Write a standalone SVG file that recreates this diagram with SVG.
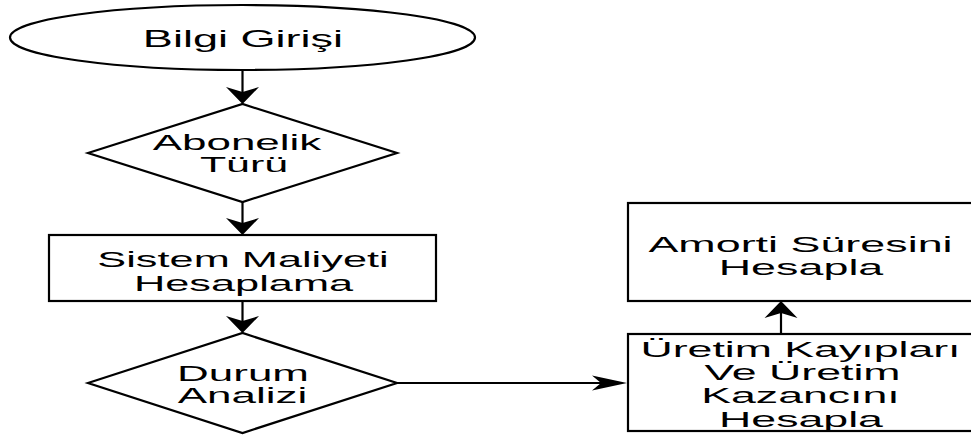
<svg xmlns="http://www.w3.org/2000/svg" width="971" height="439" viewBox="0 0 971 439">
<style>
.shape{fill:#ffffff;stroke:#000000;stroke-width:2.2}
.edge{fill:none;stroke:#000000;stroke-width:2.2}
.lbl{font-family:"Liberation Sans",Arial,sans-serif;font-size:22px;fill:#000000;text-anchor:middle}
</style>
<defs>
<marker id="arrV" markerUnits="userSpaceOnUse" viewBox="0 -17 18 34" markerWidth="18" markerHeight="34" refX="5" refY="0" orient="auto">
<path d="M0,-16.5 L17,0 L0,16.5 L5,0 Z" fill="#000000"/>
</marker>
<marker id="arrH" markerUnits="userSpaceOnUse" viewBox="0 -8 36 16" markerWidth="36" markerHeight="16" refX="9" refY="0" orient="auto">
<path d="M0,-7.5 L35,0 L0,7.5 L9,0 Z" fill="#000000"/>
</marker>
</defs>
<rect width="971" height="439" fill="#ffffff"/>
<g id="connectors">
<path class="edge" d="M242.5,70 L242.5,92" marker-end="url(#arrV)"/>
<path class="edge" d="M242.5,202 L242.5,223" marker-end="url(#arrV)"/>
<path class="edge" d="M242.5,301 L242.5,321" marker-end="url(#arrV)"/>
<path class="edge" d="M397,383 L601,383" marker-end="url(#arrH)"/>
<path class="edge" d="M781,334 L781,313" marker-end="url(#arrV)"/>
</g>
<g id="bilgi-girisi">
<ellipse class="shape" cx="242.5" cy="37.5" rx="232.5" ry="32.5"/>
<text class="lbl" transform="translate(243,47) scale(1.96,1)" style="font-size:23px">Bilgi Girişi</text>
</g>
<g id="abonelik-turu">
<polygon class="shape" points="88,153 242.5,104 397,153 242.5,202"/>
<text class="lbl" transform="translate(237,150) scale(2,1)">Abonelik</text>
<text class="lbl" transform="translate(244,172) scale(1.95,1)">Türü</text>
</g>
<g id="sistem-maliyeti">
<rect class="shape" x="49" y="235" width="387" height="66"/>
<text class="lbl" transform="translate(243,267) scale(1.97,1)">Sistem Maliyeti</text>
<text class="lbl" transform="translate(243.5,291) scale(1.97,1)">Hesaplama</text>
</g>
<g id="durum-analizi">
<polygon class="shape" points="88,383 242.5,333 397,383 242.5,433"/>
<text class="lbl" transform="translate(243,381) scale(2,1)">Durum</text>
<text class="lbl" transform="translate(242.5,403) scale(2,1)">Analizi</text>
</g>
<g id="amorti-suresi">
<rect class="shape" x="628" y="203" width="360" height="98"/>
<text class="lbl" transform="translate(800.5,252) scale(2.04,1)">Amorti Süresini</text>
<text class="lbl" transform="translate(801,275) scale(2.04,1)">Hesapla</text>
</g>
<g id="uretim-kayiplari">
<rect class="shape" x="628" y="334" width="360" height="97"/>
<text class="lbl" transform="translate(800.5,357) scale(2.03,1)">Üretim Kayıpları</text>
<text class="lbl" transform="translate(802.5,380) scale(2.03,1)">Ve Üretim</text>
<text class="lbl" transform="translate(800.5,403) scale(2.03,1)">Kazancını</text>
<text class="lbl" transform="translate(801,427) scale(2.03,1)">Hesapla</text>
</g>
</svg>
